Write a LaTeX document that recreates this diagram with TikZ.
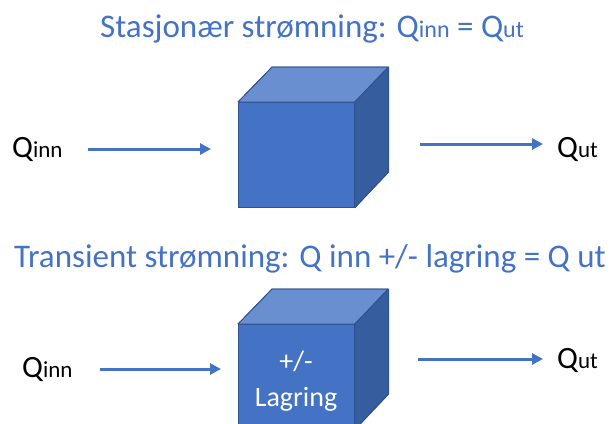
\documentclass[tikz,border=0pt]{standalone}
\usepackage{fontspec}
\setmainfont{Carlito}
\usetikzlibrary{arrows.meta}
\definecolor{acc}{HTML}{4472C4}
\definecolor{topc}{HTML}{6A8FD1}
\definecolor{sidec}{HTML}{365D9E}
\definecolor{edgec}{HTML}{2F528F}
\newcommand\qlab[1]{{\fontsize{31}{33}\selectfont Q}{\fontsize{23}{25}\selectfont #1}}
\newcommand\qtit[1]{Q{\fontsize{24}{26}\selectfont #1}}
\begin{document}
\begin{tikzpicture}[x=1pt,y=-1pt,
  front/.style={draw=edgec,fill=acc,line width=0.8pt,minimum width=116pt,minimum height=105pt,anchor=north west,inner sep=0pt},
  topface/.style={draw=edgec,fill=topc,line width=0.8pt,line join=round},
  sideface/.style={draw=edgec,fill=sidec,line width=0.8pt,line join=round},
  flow/.style={draw=acc,line width=3pt,-{Triangle[length=11pt,width=11pt]}},
  lab/.style={anchor=base west,inner sep=0pt,text=black},
  title/.style={anchor=base,inner sep=0pt,text=acc,font=\fontsize{33}{35}\selectfont}]
\useasboundingbox (0,0) rectangle (613,423);
\clip (0,0) rectangle (613,423);
% titles
\node[title] (t1) at (312,37) {Stasjonær strømning: \qtit{inn} = \qtit{ut}};
\node[title] (t2) at (310,267) {Transient strømning: Q inn +/- lagring = Q ut};
% top cube
\node[front] (c1) at (238,102) {};
\fill[topface] (c1.north west) -- ++(34,-35) -- ++(116,0) -- (c1.north east) -- cycle;
\fill[sideface] (c1.north east) -- ++(34,-35) -- ++(0,105) -- (c1.south east) -- cycle;
\draw[topface,fill=none] (c1.north west) -- ++(34,-35) -- ++(116,0) -- ++(0,105) -- (c1.south east);
% bottom cube
\node[front] (c2) at (238,324) {};
\fill[topface] (c2.north west) -- ++(34,-35) -- ++(116,0) -- (c2.north east) -- cycle;
\fill[sideface] (c2.north east) -- ++(34,-35) -- ++(0,105) -- (c2.south east) -- cycle;
\draw[topface,fill=none] (c2.north west) -- ++(34,-35) -- ++(116,0) -- ++(0,105) -- (c2.south east);
\node[text=white,align=center,font=\fontsize{28}{36}\selectfont,inner sep=0pt] (lag) at (296,381) {+/-\\Lagring};
% labels
\node[lab] (qin1) at (12,157) {\qlab{inn}};
\node[lab] (qut1) at (557,157) {\qlab{ut}};
\node[lab] (qin2) at (22,377) {\qlab{inn}};
\node[lab] (qut2) at (557,368) {\qlab{ut}};
% arrows
\coordinate (a1s) at (88,149);  \coordinate (a1e) at (211,149);
\coordinate (a2s) at (420,144); \coordinate (a2e) at (543,144);
\coordinate (a3s) at (100,369); \coordinate (a3e) at (221,369);
\coordinate (a4s) at (418,359); \coordinate (a4e) at (543,359);
\draw[flow] (a1s) -- (a1e);
\draw[flow] (a2s) -- (a2e);
\draw[flow] (a3s) -- (a3e);
\draw[flow] (a4s) -- (a4e);
\end{tikzpicture}
\end{document}
